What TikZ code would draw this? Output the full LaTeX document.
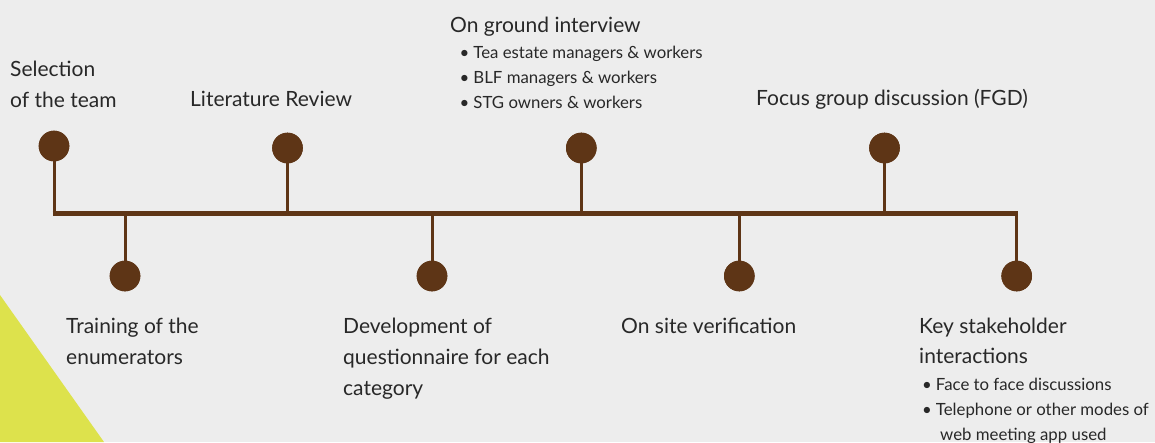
\documentclass[tikz,border=0pt]{standalone}
\usepackage{fontspec}
\setmainfont{Lato}
\definecolor{bgc}{RGB}{237,237,237}
\definecolor{brn}{RGB}{94,53,22}
\definecolor{ylw}{RGB}{221,226,76}
\definecolor{txt}{RGB}{40,40,40}
\begin{document}
\begin{tikzpicture}[x=1pt,y=-1pt,
  dot/.style={circle,fill=brn,inner sep=0pt,minimum size=30.6pt},
  stem/.style={draw=brn,line width=3pt},
  mainline/.style={draw=brn,line width=5.3pt},
  lbl/.style={anchor=base west,inner sep=0pt,text=txt,font=\fontsize{21}{25}\selectfont},
  sub/.style={anchor=base west,inner sep=0pt,text=txt,font=\fontsize{16.8}{20}\selectfont}]
\useasboundingbox (0,0) rectangle (1155,442);
\fill[bgc] (0,0) rectangle (1155,442);
\fill[ylw] (0,295) -- (104,442) -- (0,442) -- cycle;
% coordinates of main line
\coordinate (tl) at (52.5,213.7);
\coordinate (tr) at (1018.2,213.7);
% dots
\node[dot] (u1) at (54,146) {};
\node[dot] (u2) at (287.5,148) {};
\node[dot] (u3) at (581.3,148) {};
\node[dot] (u4) at (884.5,148) {};
\node[dot] (d1) at (125,276) {};
\node[dot] (d2) at (432,276) {};
\node[dot] (d3) at (739.3,276) {};
\node[dot] (d4) at (1016.7,276) {};
% stems
\foreach \n in {u1,u2,u3,u4,d1,d2,d3,d4}{
  \draw[stem] (\n.center) -- (\n.center |- tl);
}
\draw[mainline] (tl) -- (tr);
\foreach \n in {u1,u2,u3,u4,d1,d2,d3,d4}{
  \node[dot] at (\n) {};
}
% upper labels
\node[lbl] (a1) at (10,76) {Selection};
\node[lbl] (a2) at (10,107) {of the team};
\node[lbl] (b1) at (190,106) {Literature Review};
\node[lbl] (c1) at (450,32) {On ground interview};
\node[sub] (c2) at (459.5,58) {•\hspace{4pt}Tea estate managers \& workers};
\node[sub] (c3) at (459.5,83) {•\hspace{4pt}BLF managers \& workers};
\node[sub] (c4) at (459.5,108) {•\hspace{4pt}STG owners \& workers};
\node[lbl] (e1) at (756,105) {Focus group discussion (FGD)};
% lower labels
\node[lbl] (f1) at (66,333) {Training of the};
\node[lbl] (f2) at (66,364) {enumerators};
\node[lbl] (g1) at (343,333) {Development of};
\node[lbl] (g2) at (343,364) {questionnaire for each};
\node[lbl] (g3) at (343,395) {category};
\node[lbl] (h1) at (621,333) {On site verification};
\node[lbl] (k1) at (919,333) {Key stakeholder};
\node[lbl] (k2) at (919,363) {interactions};
\node[sub] (k3) at (922,390) {•\hspace{4pt}Face to face discussions};
\node[sub] (k4) at (922,415) {•\hspace{4pt}Telephone or other modes of};
\node[sub] (k5) at (940,440) {web meeting app used};
\end{tikzpicture}
\end{document}
